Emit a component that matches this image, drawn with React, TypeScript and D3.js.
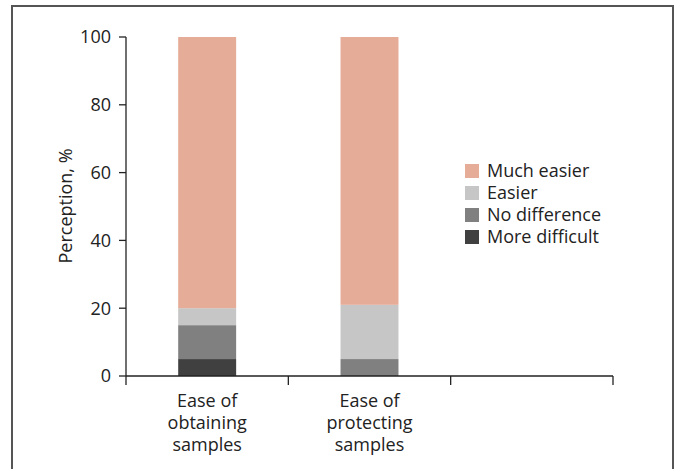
import React from "react";
import * as d3 from "d3";

const categories = ["Ease of obtaining samples", "Ease of protecting samples", ""];
const categoryLines = [["Ease of", "obtaining", "samples"], ["Ease of", "protecting", "samples"], []];
const seriesNames = ["More difficult", "No difference", "Easier", "Much easier"];
const moreDifficult = [5, 0];
const noDifference = [10, 5];
const easier = [5, 16];
const muchEasier = [80, 79];
const yTicks = [0, 20, 40, 60, 80, 100];
const colors = ["#404040", "#808080", "#c6c6c6", "#e5ac98"];

export default function App() {
  const W = 678, H = 469;
  const left = 126, right = 613, top = 37, bottom = 376;
  const x = d3.scaleBand<string>().domain(categories).range([left, right]);
  const y = d3.scaleLinear().domain([0, 100]).range([bottom, top]);
  const series = [moreDifficult, noDifference, easier, muchEasier];
  const rows = categories.slice(0, 2).map((c, i) => {
    const o: any = { cat: c };
    seriesNames.forEach((s, k) => (o[s] = series[k][i]));
    return o;
  });
  const stacked = d3.stack<any>().keys(seriesNames)(rows);
  const barW = x.bandwidth() * 0.357;
  const font = "'Open Sans', 'Noto Sans', sans-serif";
  const fs = 18;
  const legendOrder = [3, 2, 1, 0];
  const bounds = [left, ...categories.map((c) => (x(c) as number) + x.bandwidth())];

  return (
    <svg width={W} height={H} style={{ position: "absolute", left: 0, top: 0 }} fontFamily={font}>
      <rect x={0} y={0} width={W} height={H} fill="#fff" />
      <rect x={12} y={6} width={661} height={480} fill="none" stroke="#555" strokeWidth={2} />
      {stacked.map((layer, k) =>
        layer.map((d, i) => (
          <rect
            key={k + "-" + i}
            x={(x(categories[i]) as number) + x.bandwidth() / 2 - barW / 2}
            width={barW}
            y={y(d[1])}
            height={Math.max(0, y(d[0]) - y(d[1]))}
            fill={colors[k]}
          />
        ))
      )}
      {/* y axis */}
      <line x1={left} x2={left} y1={y(100)} y2={bottom} stroke="#222" strokeWidth={1.3} />
      {yTicks.map((t) => (
        <g key={t}>
          <line x1={left - 7} x2={left} y1={y(t)} y2={y(t)} stroke="#222" strokeWidth={1.3} />
          <text x={left - 15} y={y(t)} dy="0.36em" textAnchor="end" fontSize={fs} fill="#222">
            {t}
          </text>
        </g>
      ))}
      <text
        transform={`translate(66,206) rotate(-90)`}
        textAnchor="middle"
        dy="0.35em"
        fontSize={fs}
        fill="#222"
      >
        Perception, %
      </text>
      {/* x axis */}
      <line x1={left} x2={right} y1={bottom} y2={bottom} stroke="#222" strokeWidth={1.3} />
      {bounds.map((b, i) => (
        <line key={i} x1={b} x2={b} y1={bottom} y2={bottom + 9} stroke="#222" strokeWidth={1.3} />
      ))}
      {categories.map((c, i) => (
        <text key={i} textAnchor="middle" fontSize={fs} fill="#222">
          {categoryLines[i].map((l, j) => (
            <tspan key={j} x={(x(c) as number) + x.bandwidth() / 2} y={407 + j * 22}>
              {l}
            </tspan>
          ))}
        </text>
      ))}
      {/* legend */}
      {legendOrder.map((k, j) => (
        <g key={k} transform={`translate(465,${171 + j * 22})`}>
          <rect x={0} y={-7} width={14} height={14} fill={colors[k]} />
          <text x={22} y={0} dy="0.36em" fontSize={fs} fill="#222">
            {seriesNames[k]}
          </text>
        </g>
      ))}
    </svg>
  );
}
